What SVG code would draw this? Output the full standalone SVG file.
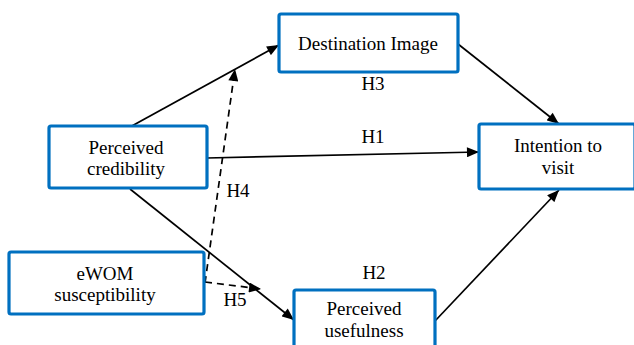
<svg xmlns="http://www.w3.org/2000/svg" width="634" height="345" viewBox="0 0 634 345">
<defs>
<marker id="ah" viewBox="0 0 12 10" refX="12" refY="5" markerWidth="13" markerHeight="10" markerUnits="userSpaceOnUse" orient="auto">
<path d="M0,0 L12,5 L0,10 Z" fill="#000"/>
</marker>
</defs>
<rect width="634" height="345" fill="#fff"/>
<g id="connectors" fill="none" stroke="#000" stroke-width="1.7">
<line x1="130" y1="127" x2="279" y2="45" marker-end="url(#ah)"/>
<line x1="207" y1="158" x2="479" y2="152" marker-end="url(#ah)"/>
<line x1="458" y1="44" x2="559" y2="124" marker-end="url(#ah)"/>
<line x1="130" y1="189" x2="294" y2="320" marker-end="url(#ah)"/>
<line x1="435" y1="321" x2="559" y2="190" marker-end="url(#ah)"/>
<line x1="205" y1="283" x2="235" y2="69" stroke-dasharray="7,5" marker-end="url(#ah)"/>
<line x1="205" y1="282" x2="261" y2="289" stroke-dasharray="7,5" marker-end="url(#ah)"/>
</g>
<g id="labels" font-family="Liberation Serif" font-size="19" fill="#000" text-anchor="middle">
<text x="373" y="90">H3</text>
<text x="373" y="143">H1</text>
<text x="238" y="197">H4</text>
<text x="235" y="306">H5</text>
<text x="374" y="279">H2</text>
</g>
<g id="nodes" font-family="Liberation Serif" font-size="19" fill="#000" text-anchor="middle">
<g id="destination-image">
<rect x="279" y="14" width="179" height="58" rx="2" fill="#fff" stroke="#0070C0" stroke-width="3.2"/>
<text x="368" y="50">Destination Image</text>
</g>
<g id="perceived-credibility">
<rect x="49" y="126" width="158" height="62" rx="2" fill="#fff" stroke="#0070C0" stroke-width="3.2"/>
<text x="126" y="154">Perceived</text>
<text x="126" y="175">credibility</text>
</g>
<g id="intention-to-visit">
<rect x="479" y="124" width="156" height="65" rx="2" fill="#fff" stroke="#0070C0" stroke-width="3.2"/>
<text x="558" y="152">Intention to</text>
<text x="558" y="174">visit</text>
</g>
<g id="ewom-susceptibility">
<rect x="9" y="252" width="195" height="62" rx="2" fill="#fff" stroke="#0070C0" stroke-width="3.2"/>
<text x="105" y="280">eWOM</text>
<text x="105" y="301">susceptibility</text>
</g>
<g id="perceived-usefulness">
<rect x="294" y="290" width="141" height="62" rx="2" fill="#fff" stroke="#0070C0" stroke-width="3.2"/>
<text x="364" y="315">Perceived</text>
<text x="364" y="337">usefulness</text>
</g>
</g>
</svg>
